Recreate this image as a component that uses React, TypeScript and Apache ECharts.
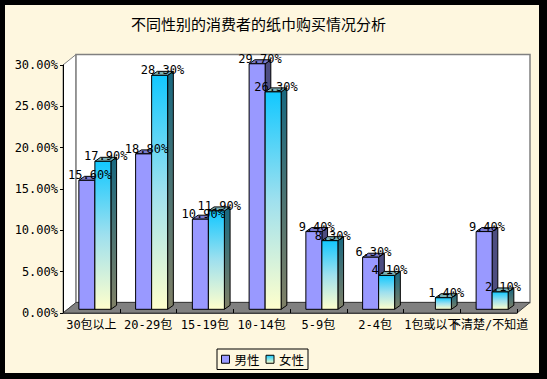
import React, { useEffect, useRef } from "react";
import * as echarts from "echarts";

const categories = ["30包以上", "20-29包", "15-19包", "10-14包", "5-9包", "2-4包", "1包或以下", "不清楚/不知道"];
const maleValues = [15.6, 18.8, 10.9, 29.7, 9.4, 6.3, 0, 9.4];
const femaleValues = [17.9, 28.3, 11.9, 26.3, 8.3, 4.1, 1.4, 2.1];
const seriesNames = ["男性", "女性"];
const yMin = 0;
const yMax = 30;
const yInterval = 5;

const FONT = "'DejaVu Sans Mono', 'Noto Sans CJK SC', monospace";
const WALL_DX = 13;
const WALL_DY = -10.5;
const BAR_FX = 3.5;
const BAR_FY = -3.7;
const BAR_DX = 5.7;
const BAR_DY = -4;
const BAR_W = 16;

function makeBarRenderer(isFemale: boolean) {
  return (params: any, api: any) => {
    const cat = api.value(0);
    const v = api.value(1);
    if (!v) return { type: "group", children: [] };
    const band = api.size([1, 0])[0];
    const center = api.coord([cat, 0])[0];
    const w = (BAR_W / 56.7) * band;
    const x0 = (isFemale ? center : center - w) + BAR_FX;
    const x1 = x0 + w;
    const yBase = api.coord([cat, 0])[1] + BAR_FY;
    const yTop = api.coord([cat, v])[1] + BAR_FY;
    const frontFill = isFemale
      ? new echarts.graphic.LinearGradient(0, 0, 0, 1, [
          { offset: 0, color: "#12C8FF" },
          { offset: 0.5, color: "#9FE0EE" },
          { offset: 1, color: "#FFFFCC" },
        ])
      : "#9999FF";
    const sideFill = isFemale
      ? new echarts.graphic.LinearGradient(0, 0, 0, 1, [
          { offset: 0, color: "#176880" },
          { offset: 1, color: "#808066" },
        ])
      : "#4D4D80";
    const topFill = isFemale ? "#7FB3B8" : "#7A7ACC";
    const stroke = { stroke: "#000", lineWidth: 1 };
    return {
      type: "group",
      children: [
        {
          type: "polygon",
          shape: {
            points: [
              [x1, yTop],
              [x1 + BAR_DX, yTop + BAR_DY],
              [x1 + BAR_DX, yBase + BAR_DY],
              [x1, yBase],
            ],
          },
          style: { fill: sideFill, ...stroke },
        },
        {
          type: "polygon",
          shape: {
            points: [
              [x0, yTop],
              [x0 + BAR_DX, yTop + BAR_DY],
              [x1 + BAR_DX, yTop + BAR_DY],
              [x1, yTop],
            ],
          },
          style: { fill: topFill, ...stroke },
        },
        {
          type: "rect",
          shape: { x: x0, y: yTop, width: w, height: yBase - yTop },
          style: { fill: frontFill, ...stroke },
        },
        {
          type: "text",
          z2: 100,
          style: {
            text: v.toFixed(2) + "%",
            x: (x0 + x1) / 2 + BAR_DX / 2,
            y: yTop - 5,
            align: "center",
            verticalAlign: "middle",
            font: "12px " + FONT,
            fill: "#000",
          },
        },
      ],
    };
  };
}

function renderWalls(params: any, api: any) {
  const band = api.size([1, 0])[0];
  const L = api.coord([0, 0])[0] - band / 2;
  const R = L + band * categories.length;
  const yB = api.coord([0, yMin])[1];
  const yT = api.coord([0, yMax])[1];
  return {
    type: "group",
    children: [
      {
        type: "polygon",
        shape: {
          points: [
            [L, yB],
            [L, yT],
            [L + WALL_DX, yT + WALL_DY],
            [L + WALL_DX, yB + WALL_DY],
          ],
        },
        style: { fill: "#FFFFFF", stroke: "#808080", lineWidth: 1 },
      },
      {
        type: "rect",
        shape: { x: L + WALL_DX, y: yT + WALL_DY, width: R - L, height: yB - yT },
        style: { fill: "#FFFFFF", stroke: "#808080", lineWidth: 1.5 },
      },
      {
        type: "polygon",
        shape: {
          points: [
            [L, yB],
            [R, yB],
            [R + WALL_DX, yB + WALL_DY],
            [L + WALL_DX, yB + WALL_DY],
          ],
        },
        style: { fill: "#808080", stroke: "#404040", lineWidth: 1 },
      },
    ],
  };
}

export default function App() {
  const ref = useRef<HTMLDivElement>(null);
  useEffect(() => {
    if (!ref.current) return;
    const chart = echarts.init(ref.current, undefined, { renderer: "svg" });
    const maleData = maleValues.map((v, i) => [i, v]);
    const femaleData = femaleValues.map((v, i) => [i, v]);
    chart.setOption({
      animation: false,
      backgroundColor: "transparent",
      title: {
        text: "不同性别的消费者的纸巾购买情况分析",
        left: 131,
        top: 16,
        padding: 0,
        textStyle: { fontSize: 15, fontWeight: "normal", color: "#000", fontFamily: "'Noto Sans CJK SC', sans-serif" },
      },
      legend: {
        left: 217,
        top: 349,
        padding: [4, 4],
        itemWidth: 8,
        itemHeight: 8,
        itemGap: 6,
        borderColor: "#000",
        borderWidth: 1,
        icon: "rect",
        textStyle: { fontSize: 12.5, color: "#000", fontFamily: "'Noto Sans CJK SC', sans-serif" },
        data: [
          { name: seriesNames[0], itemStyle: { color: "#9999FF", borderColor: "#000", borderWidth: 1 } },
          {
            name: seriesNames[1],
            itemStyle: {
              color: new echarts.graphic.LinearGradient(0, 0, 0, 1, [
                { offset: 0, color: "#12C8FF" },
                { offset: 1, color: "#FFFFCC" },
              ]),
              borderColor: "#000",
              borderWidth: 1,
            },
          },
        ],
      },
      grid: { left: 63, right: 30, top: 65, bottom: 66 },
      xAxis: {
        type: "category",
        data: categories,
        z: 10,
        axisLine: { lineStyle: { color: "#404040", width: 1 } },
        axisTick: { show: true, inside: true, length: 4, alignWithLabel: false, lineStyle: { color: "#000" } },
        axisLabel: { interval: 0, margin: 6, fontSize: 12, color: "#000", fontFamily: FONT },
        splitLine: { show: false },
      },
      yAxis: {
        type: "value",
        min: yMin,
        max: yMax,
        interval: yInterval,
        z: 10,
        axisLine: { show: true, lineStyle: { color: "#000", width: 1 } },
        axisTick: { show: true, length: 3, lineStyle: { color: "#000" } },
        axisLabel: {
          margin: 5,
          fontSize: 12,
          color: "#000",
          fontFamily: FONT,
          formatter: (v: number) => v.toFixed(2) + "%",
        },
        splitLine: { show: false },
      },
      series: [
        {
          type: "custom",
          name: "walls",
          z: 1,
          silent: true,
          clip: false,
          renderItem: renderWalls,
          data: [[0, 0]],
          encode: { x: 0, y: 1 },
        },
        {
          type: "custom",
          name: seriesNames[0],
          z: 3,
          clip: false,
          itemStyle: { color: "#9999FF" },
          renderItem: makeBarRenderer(false),
          data: maleData,
          encode: { x: 0, y: 1 },
        },
        {
          type: "custom",
          name: seriesNames[1],
          z: 3,
          clip: false,
          itemStyle: { color: "#12C8FF" },
          renderItem: makeBarRenderer(true),
          data: femaleData,
          encode: { x: 0, y: 1 },
        },
      ],
    });
    return () => chart.dispose();
  }, []);
  return (
    <div style={{ position: "fixed", left: 0, top: 0, width: 547, height: 379, background: "#000" }}>
      <div style={{ position: "absolute", left: 5, top: 5, width: 534, height: 368, background: "#FEF7DF" }} />
      <div ref={ref} style={{ position: "absolute", left: 0, top: 0, width: 547, height: 379 }} />
    </div>
  );
}
